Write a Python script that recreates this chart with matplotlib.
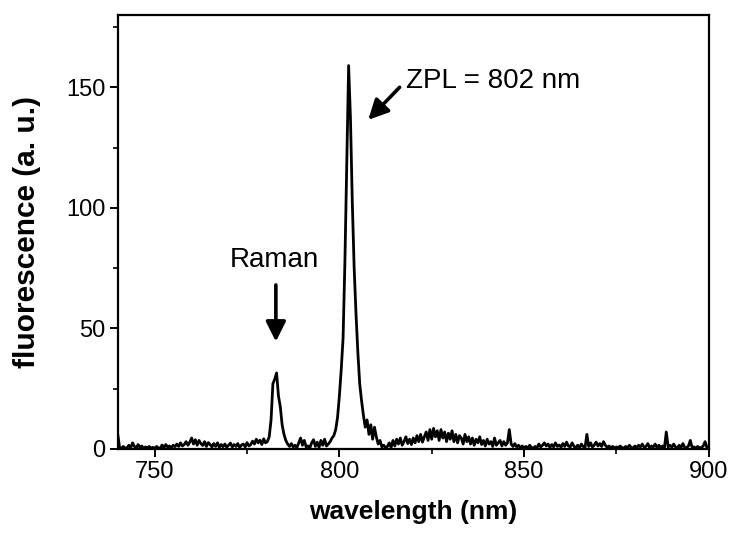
import numpy as np
import matplotlib
matplotlib.use("Agg")
import matplotlib.pyplot as plt
from matplotlib.ticker import MultipleLocator

# fluorescence spectrum, sampled every 0.5 nm from 740 to 900 nm (one row = 10 nm)
fluorescence = [
    6.0, 0.5, 0.3, 1.0, 0.2, 0.5, 1.5, 0.4, 2.5, 1.0, 0.3, 1.8, 0.6, 1.2, 0.2, 0.8, 0.4, 1.0, 0.3, 0.6,
    0.2, 1.0, 0.4, 0.2, 1.6, 0.5, 1.8, 0.7, 1.2, 0.4, 1.5, 0.9, 2.0, 1.0, 2.5, 1.2, 1.8, 3.0, 1.5, 2.8,
    4.5, 2.0, 3.8, 1.5, 3.5, 2.2, 1.4, 3.0, 1.0, 2.6, 1.8, 0.8, 2.2, 1.0, 2.5, 0.6, 1.8, 0.9, 2.0, 0.7,
    1.5, 2.4, 0.8, 1.8, 1.0, 2.2, 0.5, 1.6, 2.0, 0.8, 2.6, 1.2, 1.8, 3.2, 2.0, 4.0, 2.5, 3.6, 1.8, 4.2,
    2.5, 3.0, 5.0, 12.0, 27.0, 29.0, 31.5, 22.0, 17.5, 10.0, 6.0, 3.5, 2.0, 1.0, 2.2, 0.8, 1.5, 0.5, 2.5, 4.5,
    1.5, 3.5, 0.8, 1.2, 0.4, 2.5, 3.8, 1.0, 2.8, 0.6, 3.5, 1.5, 4.0, 1.2, 2.0, 3.0, 4.5, 5.5, 8.0, 13.0,
    22.0, 33.0, 46.0, 78.0, 118.0, 159.0, 137.0, 102.0, 75.0, 56.0, 40.0, 27.0, 20.0, 14.0, 9.0, 12.0, 6.0, 10.0, 4.0, 9.0,
    5.0, 2.0, 3.5, 0.8, 1.5, 0.5, 1.0, 2.5, 0.6, 3.5, 1.2, 4.0, 2.0, 4.5, 1.5, 3.0, 5.0, 2.2, 4.0, 1.8,
    4.5, 2.5, 5.5, 3.0, 6.0, 2.8, 5.0, 7.0, 3.5, 8.0, 4.0, 8.5, 5.0, 7.5, 3.5, 8.0, 4.5, 7.0, 3.0, 6.5,
    4.0, 7.5, 3.0, 6.0, 2.5, 5.5, 4.5, 2.0, 6.0, 3.0, 5.0, 2.0, 4.5, 1.5, 4.0, 2.5, 5.0, 1.8, 3.5, 1.2,
    4.0, 2.0, 3.0, 1.0, 4.5, 1.5, 2.5, 3.5, 1.2, 3.0, 1.5, 2.5, 8.0, 2.0, 1.0, 2.2, 0.8, 1.5, 0.5, 1.2,
    0.4, 1.0, 0.3, 1.5, 0.6, 0.3, 1.0, 0.4, 2.0, 0.8, 1.5, 2.5, 1.2, 2.0, 0.6, 1.8, 0.8, 2.5, 1.0, 1.6,
    0.7, 2.2, 1.0, 2.8, 1.2, 0.8, 2.5, 1.0, 0.6, 1.5, 0.4, 2.0, 1.0, 0.5, 6.0, 1.0, 2.5, 0.8, 1.5, 2.8,
    1.2, 2.2, 1.0, 3.0, 1.5, 0.6, 1.2, 0.5, 1.0, 0.3, 0.8, 0.4, 1.2, 0.5, 0.3, 1.0, 0.4, 1.5, 0.6, 0.3,
    1.2, 0.5, 1.5, 0.8, 2.0, 0.6, 1.0, 2.2, 0.5, 1.2, 0.8, 2.0, 0.4, 1.5, 0.6, 1.2, 0.5, 7.0, 0.8, 1.5,
    0.6, 2.0, 0.8, 0.4, 1.5, 0.5, 2.2, 0.6, 0.4, 1.2, 3.5, 0.5, 0.8, 0.3, 1.0, 0.4, 0.6, 1.2, 3.0, 0.5,
    0.8,
]
wavelength = np.linspace(740.0, 900.0, len(fluorescence))

x_ticks = [750, 800, 850, 900]
y_ticks = [0, 50, 100, 150]

plt.rcParams.update({
    "font.family": ["Liberation Sans", "DejaVu Sans"],
    "font.size": 17,
    "axes.linewidth": 1.6,
})

fig = plt.figure(figsize=(7.36, 5.35), dpi=100)
ax = fig.add_axes([0.160, 0.161, 0.803, 0.811])

ax.plot(wavelength, fluorescence, color="black", linewidth=2.0)

ax.set_xlim(740, 900)
ax.set_ylim(0, 180)
ax.set_xticks(x_ticks)
ax.set_yticks(y_ticks)
ax.xaxis.set_minor_locator(MultipleLocator(25))
ax.yaxis.set_minor_locator(MultipleLocator(25))
ax.tick_params(which="major", direction="out", length=6, width=1.4, labelsize=17, pad=3)
ax.tick_params(which="minor", direction="out", length=3.5, width=1.2)
ax.tick_params(top=False, right=False)

ax.set_xlabel("wavelength (nm)", fontsize=19, fontweight="bold", labelpad=12)
ax.set_ylabel("fluorescence (a. u.)", fontsize=21.5, fontweight="bold", labelpad=18)

arrow = dict(arrowstyle="-|>", color="black", lw=2.6, mutation_scale=30,
             shrinkA=0, shrinkB=0)
ax.annotate("", xy=(782.8, 44.5), xytext=(782.8, 68), arrowprops=arrow)
ax.text(782.3, 78.5, "Raman", ha="center", va="center", fontsize=20)
ax.annotate("", xy=(807.8, 136.5), xytext=(816.3, 150), arrowprops=arrow)
ax.text(818.0, 152.5, "ZPL = 802 nm", ha="left", va="center", fontsize=20)

fig.savefig("out.png", dpi=100, facecolor="white")
